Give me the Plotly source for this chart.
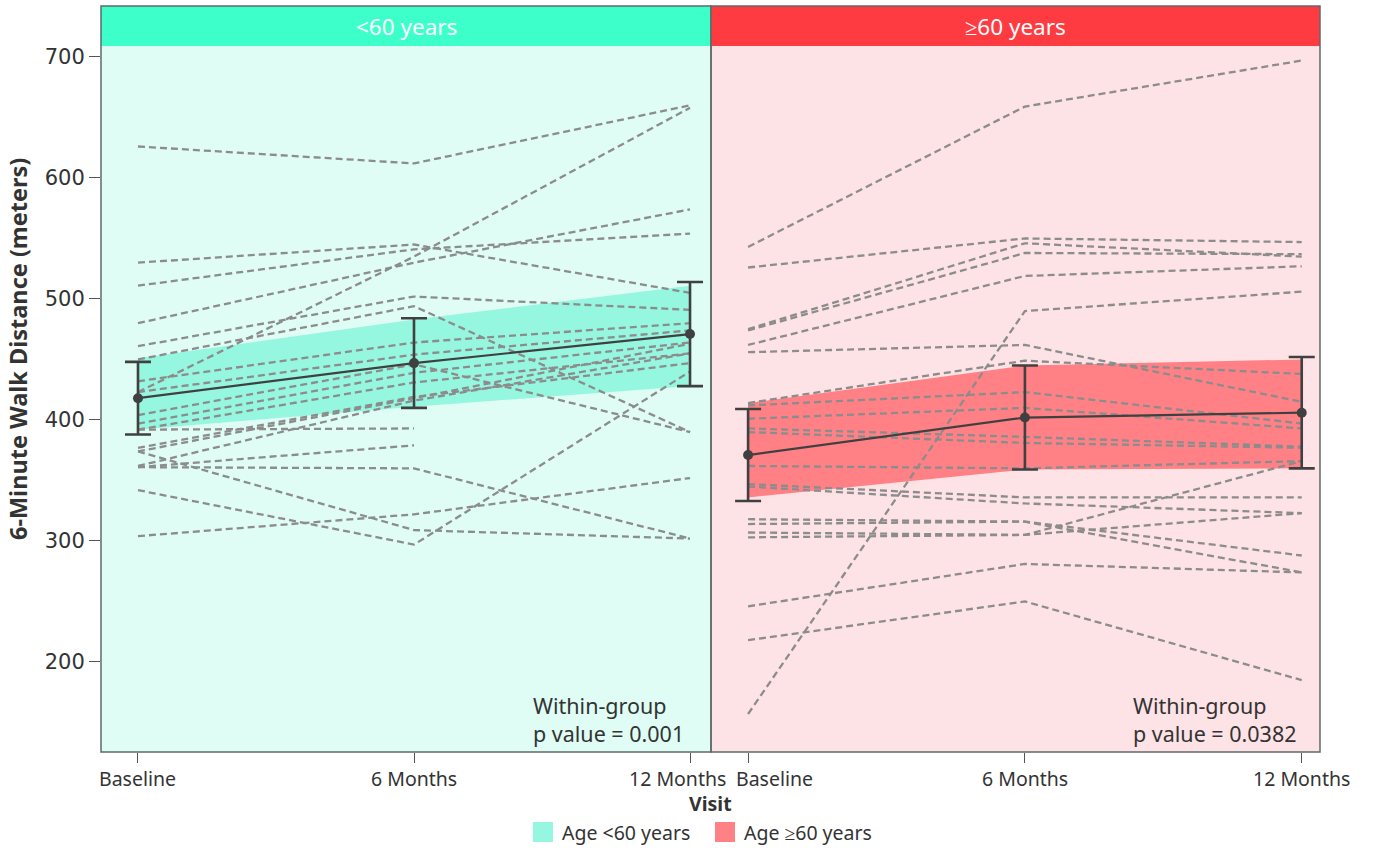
import plotly.graph_objects as go

visits = ["Baseline", "6 Months", "12 Months"]
visit_pos = [0, 1, 2]

# Individual patient trajectories (Baseline, 6 Months, 12 Months)
young_patients = [
    [626, 612, 660],
    [423, 535, 658],
    [530, 545, 505],
    [511, 541, 554],
    [480, 530, 574],
    [461, 502, 491],
    [450, 494, 390],
    [432, 464, 480],
    [423, 454, 474],
    [404, 446, 390],
    [397, 439, 464],
    [392, 431, 455],
    [377, 419, 447],
    [374, 418, 463],
    [362, 416, 455],
    [392, 393, None],
    [361, 379, None],
    [374, 309, 302],
    [361, 360, 302],
    [342, 297, 440],
    [304, 322, 352],
]
old_patients = [
    [157, 490, 506],
    [543, 659, 697],
    [526, 550, 547],
    [475, 546, 535],
    [474, 538, 537],
    [462, 519, 527],
    [456, 462, 415],
    [414, 449, 438],
    [412, 423, 397],
    [401, 410, 393],
    [393, 386, 378],
    [390, 381, 377],
    [362, 360, 366],
    [347, 336, 336],
    [345, 331, 323],
    [318, 316, 288],
    [314, 316, 274],
    [307, 305, 366],
    [303, 305, 323],
    [246, 281, 274],
    [218, 250, 185],
]

young_mean = [418, 447, 471]
young_err = [30, 37, 43]
old_mean = [371, 402, 406]
old_err = [38, 43, 46]

young_band_upper = [451, 483, 511]
young_band_lower = [392, 411, 428]
old_band_upper = [414, 445, 450]
old_band_lower = [336, 359, 360]

y_ticks = [200, 300, 400, 500, 600, 700]
panel_titles = ["&lt;60 years", "≥60 years"]
legend_names = ["Age &lt;60 years", "Age ≥60 years"]
p_texts = ["Within-group<br>p value = 0.001", "Within-group<br>p value = 0.0382"]

bg_colors = ["#DFFDF4", "#FDE3E5"]
header_colors = ["#3DFFCA", "#FF3B42"]
band_colors = ["#96F7E0", "#FF8185"]
dash_color = "#8C8C8C"
mean_color = "#404040"
text_color = "#333333"

W, H = 1373, 850
L, R, T, B = 101, 53, 6, 98
PW, PH = W - L - R, H - T - B


def px_x(px):
    return (px - L) / PW


def px_y(py):
    return (H - B - py) / PH


fig = go.Figure()

groups = [
    (young_patients, young_mean, young_err, young_band_upper, young_band_lower, "x"),
    (old_patients, old_mean, old_err, old_band_upper, old_band_lower, "x2"),
]

for gi, (patients, mean, err, up, lo, xa) in enumerate(groups):
    fig.add_trace(go.Scatter(
        x=visit_pos + visit_pos[::-1], y=up + lo[::-1],
        fill="toself", fillcolor=band_colors[gi], line=dict(width=0),
        mode="lines", hoverinfo="skip", showlegend=False, xaxis=xa, yaxis="y"))
    for p in patients:
        fig.add_trace(go.Scatter(
            x=visit_pos, y=p, mode="lines",
            line=dict(color=dash_color, width=2.3, dash="7px,4px"),
            connectgaps=False, showlegend=False, hoverinfo="skip",
            xaxis=xa, yaxis="y"))
    fig.add_trace(go.Scatter(
        x=visit_pos, y=mean, mode="lines+markers",
        line=dict(color=mean_color, width=2.2),
        marker=dict(color=mean_color, size=10),
        error_y=dict(type="data", array=err, color=mean_color, thickness=2.6, width=13),
        showlegend=False, xaxis=xa, yaxis="y"))

split = (711 - L) / PW
axis_common = dict(
    tickvals=visit_pos, showticklabels=False, showgrid=False, zeroline=False,
    ticks="outside", ticklen=10, tickcolor="#555", tickwidth=1.3,
    showline=False, fixedrange=True, automargin=False,
)
fig.update_layout(
    width=W, height=H,
    margin=dict(l=L, r=R, t=T, b=B),
    paper_bgcolor="white", plot_bgcolor="white",
    xaxis=dict(domain=[0, split], range=[-0.134, 2.076], anchor="y", **axis_common),
    xaxis2=dict(domain=[split, 1], range=[-0.134, 2.066], anchor="y", **axis_common),
    yaxis=dict(range=[125.6, 742.1], tickvals=y_ticks,
               showgrid=False, zeroline=False, ticks="outside", ticklen=11,
               tickcolor="#555", tickwidth=1.3, automargin=False,
               tickfont=dict(family="DejaVu Sans, Verdana, sans-serif", size=21,
                             color=text_color),
               fixedrange=True),
    showlegend=False,
)

shapes = []
annotations = []
head_y0 = px_y(46)
for gi, xa in enumerate(["x", "x2"]):
    xd = xa + " domain"
    shapes.append(dict(type="rect", xref=xd, yref="y domain", x0=0, x1=1, y0=0, y1=1,
                       fillcolor=bg_colors[gi], line=dict(width=0), layer="below"))
    shapes.append(dict(type="rect", xref=xd, yref="y domain", x0=0, x1=1,
                       y0=head_y0, y1=1,
                       fillcolor=header_colors[gi], line=dict(width=0), layer="above"))
    shapes.append(dict(type="rect", xref=xd, yref="y domain", x0=0, x1=1, y0=0, y1=1,
                       fillcolor="rgba(0,0,0,0)", line=dict(color="#5f6b68", width=1.5),
                       layer="above"))
    annotations.append(dict(xref=xd, yref="y domain", x=0.5, y=(1 + head_y0) / 2,
                            yanchor="middle", text=panel_titles[gi], showarrow=False,
                            font=dict(family="Noto Sans", size=22.5, color="white")))
    x_left = [531, 1131][gi]
    annotations.append(dict(xref="paper", yref="paper", x=px_x(x_left), y=px_y(719),
                            xanchor="left", yanchor="middle", align="left",
                            text=p_texts[gi], showarrow=False,
                            font=dict(family="Noto Sans", size=21.5, color=text_color)))
    # x tick labels (edge labels nudged to avoid collision, as in the original)
    shifts = [[0, 0, -13], [26, 0, 0]][gi]
    for vi, v in enumerate(visit_pos):
        annotations.append(dict(xref=xa, yref="paper", x=v, y=px_y(778),
                                xshift=shifts[vi], xanchor="center", yanchor="middle",
                                text=visits[vi], showarrow=False,
                                font=dict(family="Noto Sans", size=19.5, color=text_color)))

# axis titles
annotations.append(dict(xref="paper", yref="paper", x=0.5, y=px_y(803), yanchor="middle",
                        text="<b>Visit</b>", showarrow=False,
                        font=dict(family="Noto Sans", size=19.5, color=text_color)))
annotations.append(dict(xref="paper", yref="paper", x=px_x(18), y=px_y(349),
                        xanchor="center", yanchor="middle", textangle=-90,
                        text="<b>6-Minute Walk Distance (meters)</b>", showarrow=False,
                        font=dict(family="Noto Sans", size=23.5, color=text_color)))

# legend (manual)
legend_items = [(533, 560), (715, 742)]
for gi, (sx, tx) in enumerate(legend_items):
    shapes.append(dict(type="rect", xref="paper", yref="paper",
                       x0=px_x(sx), x1=px_x(sx + 20), y0=px_y(842), y1=px_y(822),
                       fillcolor=band_colors[gi], line=dict(width=0)))
    annotations.append(dict(xref="paper", yref="paper", x=px_x(tx), y=px_y(832),
                            xanchor="left", yanchor="middle", text=legend_names[gi],
                            showarrow=False,
                            font=dict(family="Noto Sans", size=19.5, color=text_color)))

fig.update_layout(shapes=shapes, annotations=annotations)

fig.write_html("out.html", config={"displayModeBar": False},
               post_script="document.body.style.margin='0';document.body.style.overflow='hidden';")
